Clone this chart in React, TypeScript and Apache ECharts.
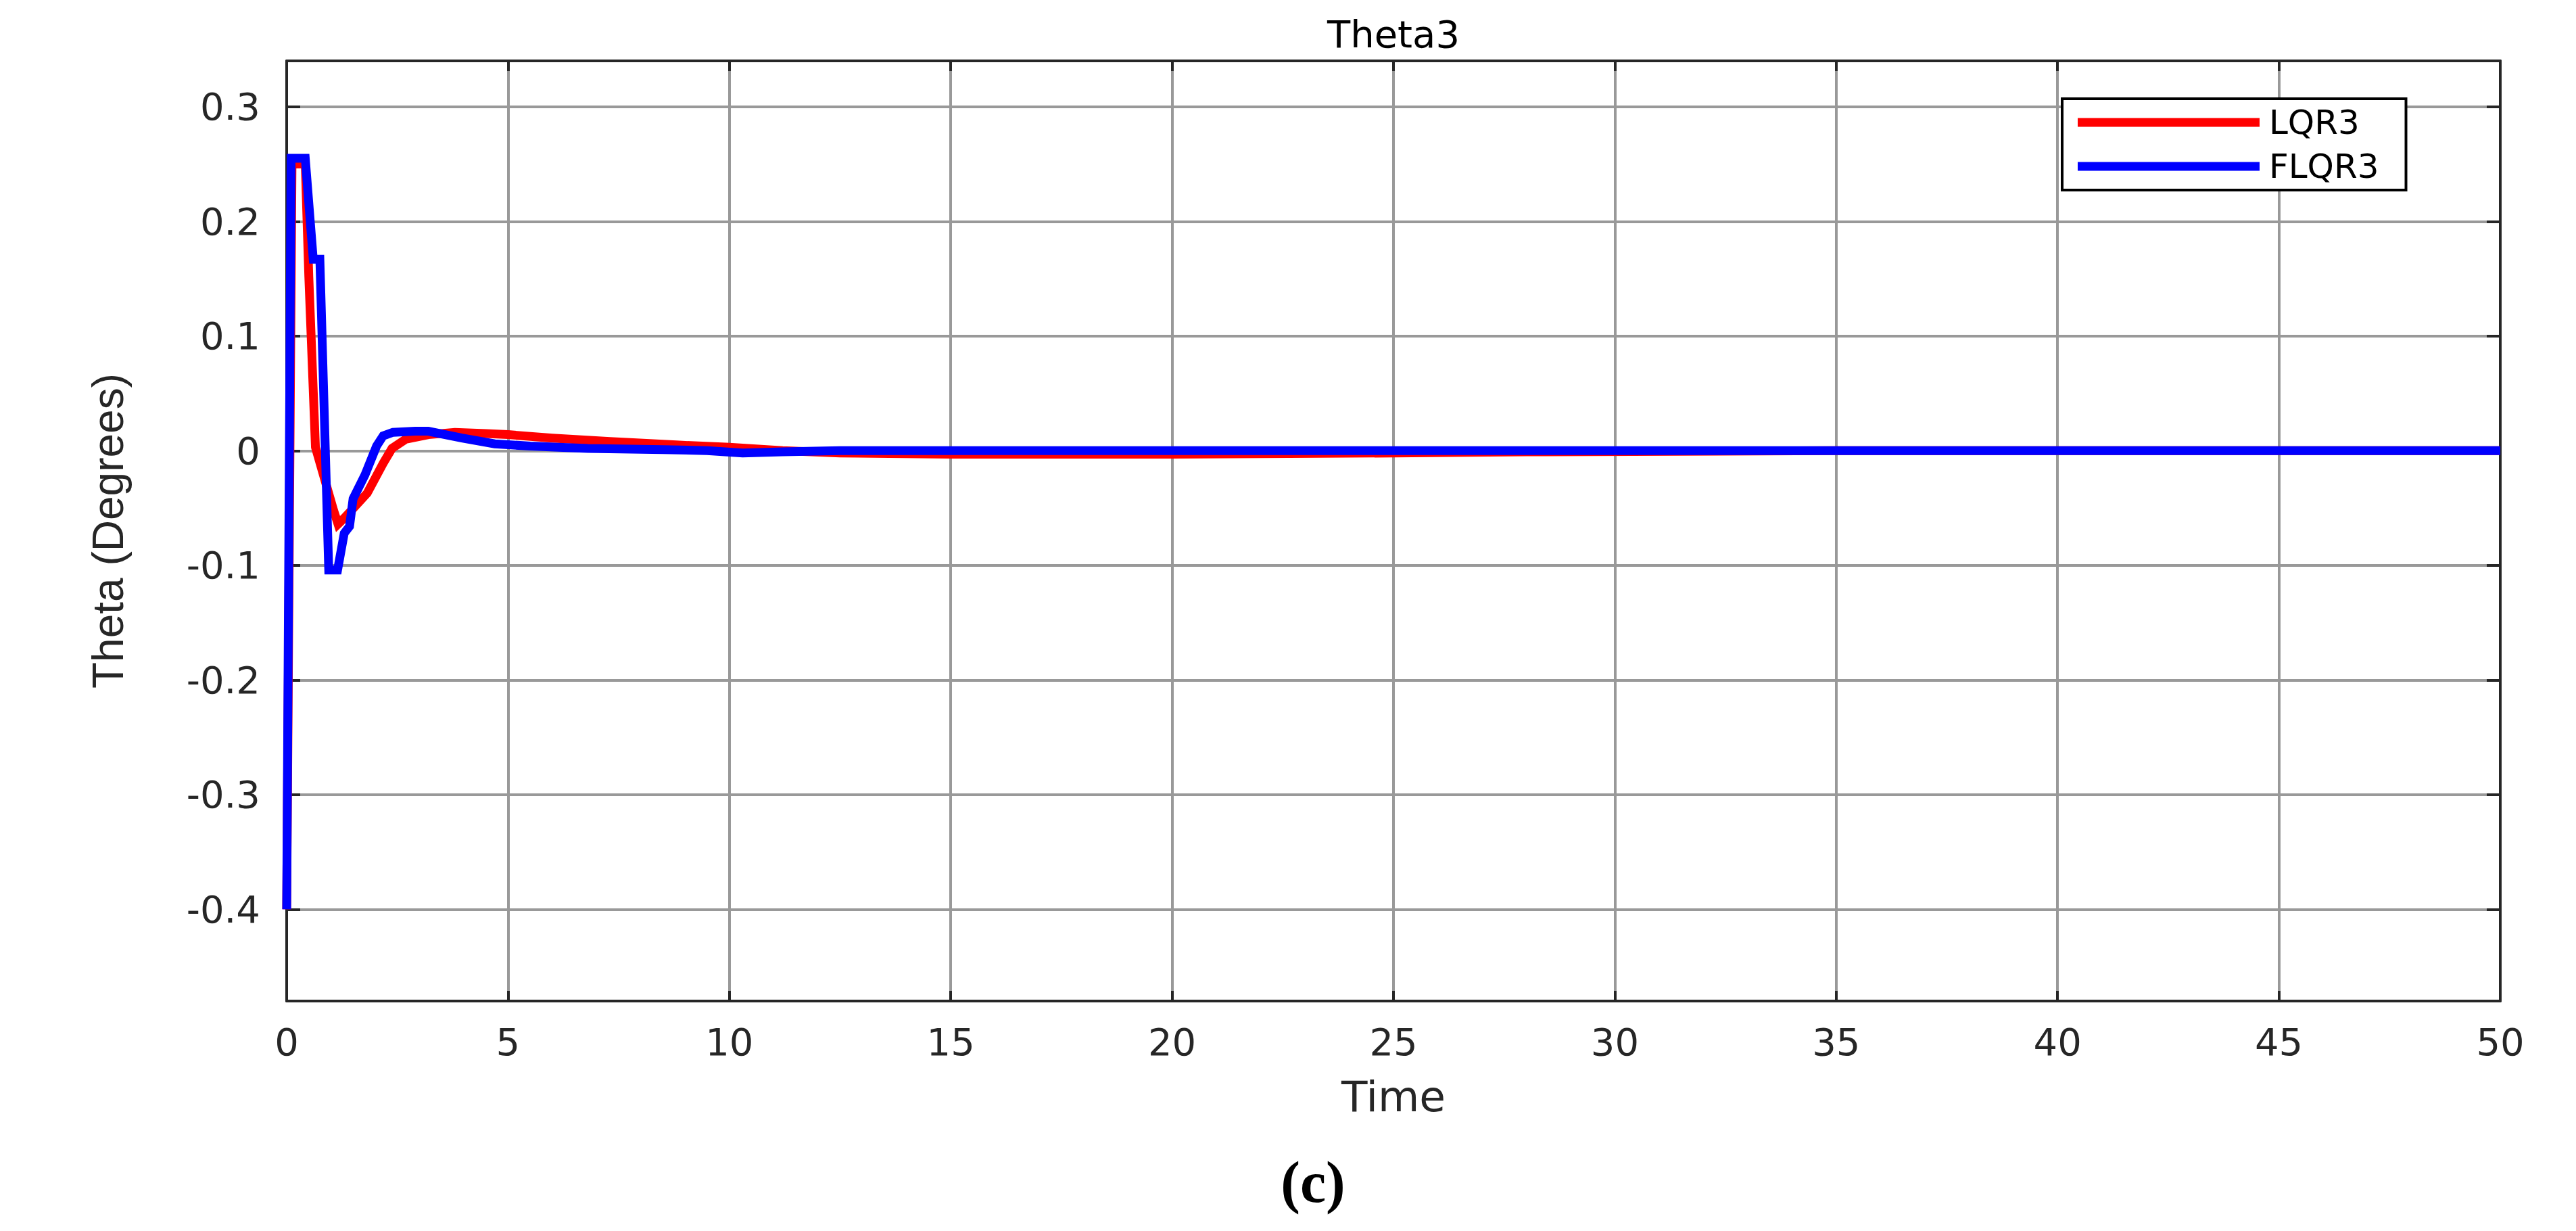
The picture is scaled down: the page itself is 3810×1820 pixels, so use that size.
import React, { useEffect, useRef } from 'react';
import * as echarts from 'echarts';

const TITLE = 'Theta3';
const X_NAME = 'Time';
const Y_NAME = 'Theta (Degrees)';
const CAPTION = '(c)';
const SERIES_NAMES = ['LQR3', 'FLQR3'];

const X_MIN = 0;
const X_MAX = 50;
const X_STEP = 5;
const Y_MIN = -0.48;
const Y_MAX = 0.34;
const Y_TICKS = [-0.4, -0.3, -0.2, -0.1, 0, 0.1, 0.2, 0.3];

const lqrTime = [0, 0.12, 0.42, 0.5, 0.65, 1.06, 1.16, 1.32, 1.82, 2.18, 2.38, 2.69, 3.2, 3.8, 4.5, 5, 6, 7.3, 8.8, 10, 11.2, 12.5, 15, 20, 25, 28, 35, 50];
const lqrValues = [-0.4, 0.25, 0.25, 0.152, 0.003, -0.052, -0.064, -0.058, -0.037, -0.011, 0.002, 0.01, 0.014, 0.016, 0.015, 0.014, 0.011, 0.008, 0.005, 0.003, 0.0, -0.002, -0.003, -0.003, -0.002, -0.001, 0, 0];

const flqrTime = [0, 0.1, 0.42, 0.6, 0.75, 0.95, 1.15, 1.3, 1.42, 1.5, 1.77, 2.03, 2.18, 2.4, 2.9, 3.2, 3.96, 4.7, 5.5, 6.8, 8.5, 9.5, 10.3, 11.2, 12.5, 50];
const flqrValues = [-0.4, 0.255, 0.255, 0.167, 0.167, -0.104, -0.104, -0.072, -0.066, -0.042, -0.021, 0.004, 0.013, 0.016, 0.017, 0.017, 0.011, 0.006, 0.004, 0.002, 0.001, 0.0, -0.002, -0.001, 0, 0];

const AXIS_COLOR = '#262626';
const GRID_COLOR = '#999999';
const LABEL_FONT = 'DejaVu Sans';

export default function App() {
  const ref = useRef<HTMLDivElement>(null);

  useEffect(() => {
    if (!ref.current) return;
    const chart = echarts.init(ref.current, null, { renderer: 'svg' });

    const axisLine = { show: true, onZero: false, lineStyle: { color: AXIS_COLOR, width: 4 } };
    const fmt = (v: number) => (Math.abs(v) < 1e-9 ? '0' : String(Math.round(v * 10) / 10));

    chart.setOption({
      animation: false,
      backgroundColor: '#ffffff',
      grid: { left: 424, right: 112, top: 90, bottom: 340, containLabel: false },
      legend: {
        orient: 'vertical',
        left: 3050,
        top: 146,
        padding: [10, 40, 10, 23],
        borderColor: '#000000',
        borderWidth: 4,
        backgroundColor: '#ffffff',
        itemWidth: 269,
        itemHeight: 13,
        itemGap: 15,
        icon: 'rect',
        textStyle: { fontSize: 50, fontFamily: LABEL_FONT, color: '#000000', lineHeight: 48, padding: [0, 0, 0, 9] },
        data: SERIES_NAMES,
      },
      xAxis: [
        {
          type: 'value',
          position: 'bottom',
          min: X_MIN,
          max: X_MAX,
          interval: X_STEP,
          axisLine,
          axisTick: { show: true, inside: true, length: 15, lineStyle: { color: AXIS_COLOR, width: 4 } },
          axisLabel: { margin: 32, fontSize: 56, fontFamily: LABEL_FONT, color: AXIS_COLOR },
          splitLine: { show: true, lineStyle: { color: GRID_COLOR, width: 4 } },
          name: X_NAME,
          nameLocation: 'middle',
          nameGap: 110,
          nameTextStyle: { fontSize: 63, fontFamily: LABEL_FONT, color: AXIS_COLOR },
        },
        {
          type: 'value',
          position: 'top',
          min: X_MIN,
          max: X_MAX,
          interval: X_STEP,
          axisLine,
          axisTick: { show: true, inside: true, length: 15, lineStyle: { color: AXIS_COLOR, width: 4 } },
          axisLabel: { show: false },
          splitLine: { show: false },
        },
      ],
      yAxis: [
        {
          type: 'value',
          position: 'left',
          min: Y_MIN,
          max: Y_MAX,
          axisLine,
          axisTick: { show: true, inside: true, length: 20, customValues: Y_TICKS, lineStyle: { color: AXIS_COLOR, width: 4 } },
          axisLabel: { customValues: Y_TICKS, formatter: fmt, margin: 39, fontSize: 56, fontFamily: LABEL_FONT, color: AXIS_COLOR },
          splitLine: { show: true, lineStyle: { color: GRID_COLOR, width: 4 } },
          name: Y_NAME,
          nameLocation: 'middle',
          nameRotate: 90,
          nameGap: 232,
          nameTextStyle: { fontSize: 64, fontFamily: 'Liberation Sans', color: AXIS_COLOR },
        },
        {
          type: 'value',
          position: 'right',
          min: Y_MIN,
          max: Y_MAX,
          axisLine,
          axisTick: { show: true, inside: true, length: 20, customValues: Y_TICKS, lineStyle: { color: AXIS_COLOR, width: 4 } },
          axisLabel: { show: false, customValues: Y_TICKS },
          splitLine: { show: false },
        },
      ],
      graphic: [
        {
          type: 'text',
          x: 2061,
          y: 50,
          style: { text: TITLE, align: 'center', verticalAlign: 'middle', font: '56px "DejaVu Sans"', fill: '#000000' },
        },
        {
          type: 'text',
          x: 1942,
          y: 1748,
          style: { text: CAPTION, align: 'center', verticalAlign: 'middle', font: 'bold 86px "Liberation Serif"', fill: '#000000' },
        },
      ],
      series: [
        {
          name: SERIES_NAMES[0],
          type: 'line',
          xAxisIndex: 0,
          yAxisIndex: 0,
          data: lqrTime.map((t, i) => [t, lqrValues[i]]),
          showSymbol: false,
          symbol: 'none',
          lineStyle: { color: '#ff0000', width: 13, join: 'miter' },
          itemStyle: { color: '#ff0000' },
          z: 3,
        },
        {
          name: SERIES_NAMES[1],
          type: 'line',
          xAxisIndex: 0,
          yAxisIndex: 0,
          data: flqrTime.map((t, i) => [t, flqrValues[i]]),
          showSymbol: false,
          symbol: 'none',
          lineStyle: { color: '#0000ff', width: 13, join: 'miter' },
          itemStyle: { color: '#0000ff' },
          z: 4,
        },
      ],
    });

    return () => chart.dispose();
  }, []);

  return (
    <div
      ref={ref}
      style={{ position: 'fixed', left: 0, top: 0, width: '3810px', height: '1820px', background: '#ffffff' }}
    />
  );
}
